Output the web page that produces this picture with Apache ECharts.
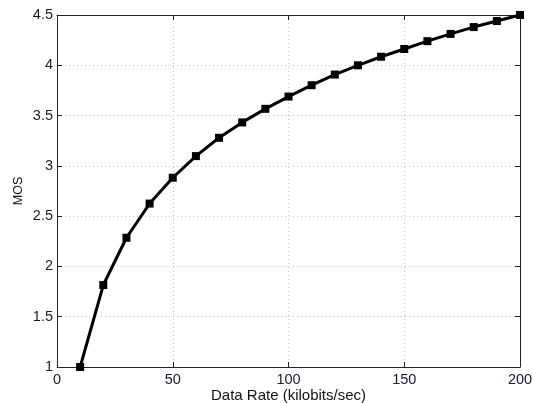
<!DOCTYPE html>
<html><head><meta charset="utf-8">
<script src="https://cdn.jsdelivr.net/npm/echarts@6/dist/echarts.min.js"></script>
<style>html,body{margin:0;padding:0;background:#fff}#c{width:533px;height:403px}</style>
</head><body><div id="c"></div>
<script>
const dataRate = [10,20,30,40,50,60,70,80,90,100,110,120,130,140,150,160,170,180,190,200];
const mos = [1.0,1.815,2.285,2.625,2.882,3.097,3.279,3.432,3.567,3.689,3.802,3.908,4.0,4.085,4.162,4.24,4.312,4.38,4.44,4.5];
const xTicks = [0,50,100,150,200];
const yTicks = [1,1.5,2,2.5,3,3.5,4,4.5];
const xTitle = 'Data Rate (kilobits/sec)';
const yTitle = 'MOS';

const font = 'Liberation Sans, Arial, sans-serif';
const chart = echarts.init(document.getElementById('c'));
const gridStyle = {show:true, lineStyle:{color:'#c4c4c4', width:1, type:[1,3]}};
chart.setOption({
  animation:false,
  grid:{left:57, right:13, top:15, bottom:36, outerBoundsMode:'none', containLabel:false},
  xAxis:[{
    type:'value', min:0, max:200, interval:50, position:'bottom',
    name:xTitle, nameLocation:'middle', nameGap:21, nameMoveOverlap:false,
    nameTextStyle:{color:'#111', fontSize:15, fontFamily:font},
    axisLine:{show:true, onZero:false, lineStyle:{color:'#222', width:1}},
    axisTick:{show:true, inside:true, length:5, lineStyle:{color:'#222'}},
    axisLabel:{color:'#1a1a2e', fontSize:14.5, fontFamily:font, margin:5,
      formatter:v=>xTicks.includes(v)?String(v):''},
    splitLine:gridStyle
  },{
    type:'value', min:0, max:200, interval:50, position:'top',
    axisLine:{show:true, onZero:false, lineStyle:{color:'#222', width:1}},
    axisTick:{show:true, inside:true, length:5, lineStyle:{color:'#222'}},
    axisLabel:{show:false}, splitLine:{show:false}
  }],
  yAxis:[{
    type:'value', min:1, max:4.5, interval:0.5, position:'left',
    name:yTitle, nameLocation:'middle', nameGap:32, nameRotate:90, nameMoveOverlap:false,
    nameTextStyle:{color:'#111', fontSize:12.5, fontFamily:font},
    axisLine:{show:true, onZero:false, lineStyle:{color:'#222', width:1}},
    axisTick:{show:true, inside:true, length:5, lineStyle:{color:'#222'}},
    axisLabel:{color:'#1a1a2e', fontSize:14.5, fontFamily:font, margin:4,
      formatter:v=>{const t=yTicks.find(k=>Math.abs(k-v)<1e-9);return t===undefined?'':String(t);}},
    splitLine:gridStyle
  },{
    type:'value', min:1, max:4.5, interval:0.5, position:'right',
    axisLine:{show:true, onZero:false, lineStyle:{color:'#222', width:1}},
    axisTick:{show:true, inside:true, length:5, lineStyle:{color:'#222'}},
    axisLabel:{show:false}, splitLine:{show:false}
  }],
  series:[{
    type:'line', xAxisIndex:0, yAxisIndex:0,
    data:dataRate.map((x,i)=>[x,mos[i]]),
    lineStyle:{color:'#000', width:3},
    symbol:'rect', symbolSize:8,
    itemStyle:{color:'#000', borderColor:'#000', borderWidth:0},
    clip:false
  }]
});
</script></body></html>
